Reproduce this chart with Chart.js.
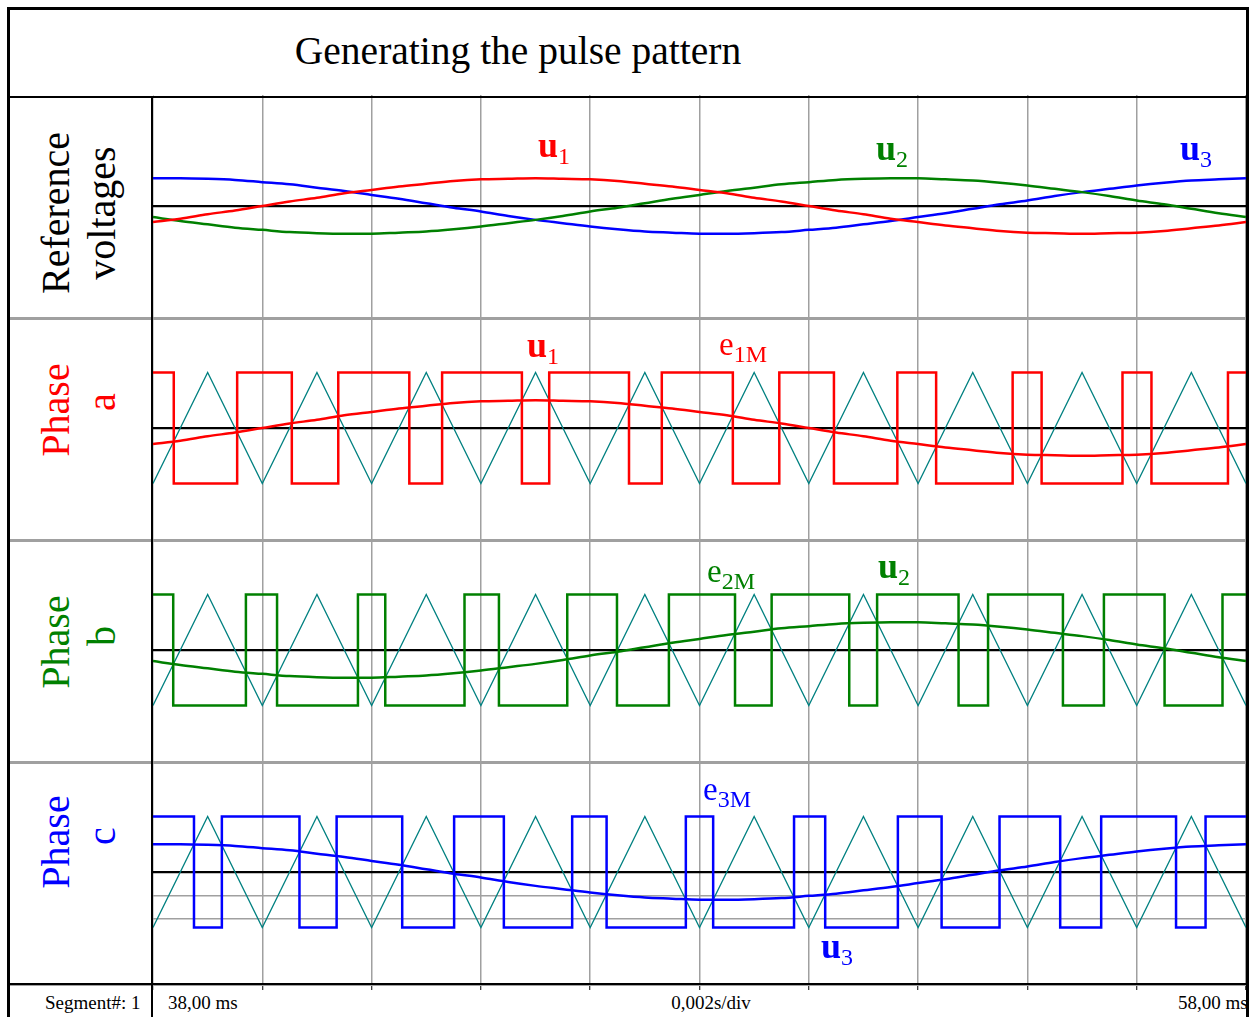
<!DOCTYPE html>
<html>
<head>
<meta charset="utf-8">
<title>Generating the pulse pattern</title>
<script src="https://cdn.jsdelivr.net/npm/chart.js@4.4.1/dist/chart.umd.min.js"></script>
<style>
    body { margin: 0; background: #fff; }
    #page { position: relative; width: 1255px; height: 1017px; overflow: hidden; font-family: "Liberation Serif", "Times New Roman", serif; }
    .box { position: absolute; z-index: 2; }
    .panel { position: absolute; left: 153px; z-index: 1; }
    .rot { position: absolute; z-index: 3; font-size: 40px; line-height: 46px; white-space: nowrap; transform: translate(-50%, -50%) rotate(-90deg); }
    .lbl { position: absolute; z-index: 3; white-space: nowrap; }
    .lbl.u { font-size: 36px; line-height: 36px; font-weight: bold; }
    .lbl.e { font-size: 33px; line-height: 33px; }
    .lbl .s { font-size: 24px; font-weight: normal; position: relative; top: 7px; }
    .foot { position: absolute; z-index: 3; font-size: 19px; line-height: 19px; white-space: nowrap; }
</style>
</head>
<body>
<div id="page">
    <canvas id="p1" class="panel" width="1093" height="222" style="top:95px"></canvas>
    <canvas id="p2" class="panel" width="1093" height="222" style="top:317px"></canvas>
    <canvas id="p3" class="panel" width="1093" height="222" style="top:539px"></canvas>
    <canvas id="p4" class="panel" width="1093" height="229" style="top:761px"></canvas>

    <!-- frame -->
    <div class="box" style="left:7px;top:7px;width:1242px;height:3px;background:#000"></div>
    <div class="box" style="left:7px;top:7px;width:3px;height:1010px;background:#000"></div>
    <div class="box" style="left:1246px;top:7px;width:3px;height:1010px;background:#000"></div>
    <div class="box" style="left:10px;top:96px;width:1236px;height:2px;background:#000"></div>
    <div class="box" style="left:10px;top:317px;width:1236px;height:3px;background:#a0a0a0"></div>
    <div class="box" style="left:10px;top:539px;width:1236px;height:3px;background:#a0a0a0"></div>
    <div class="box" style="left:10px;top:761px;width:1236px;height:3px;background:#a0a0a0"></div>
    <div class="box" style="left:10px;top:983px;width:1236px;height:2px;background:#000"></div>
    <div class="box" style="left:10px;top:985px;width:1236px;height:1px;background:#a0a0a0"></div>
    <div class="box" style="left:151px;top:97px;width:2px;height:920px;background:#000"></div>

    <div class="lbl" style="left:218px;top:32px;width:600px;text-align:center;font-size:39.5px;line-height:39px">Generating the pulse pattern</div>

    <div class="rot" style="left:56px;top:213px">Reference</div>
    <div class="rot" style="left:102px;top:213px">voltages</div>
    <div class="rot" style="left:56px;top:410px;color:#ff0000">Phase</div>
    <div class="rot" style="left:102px;top:402px;color:#ff0000">a</div>
    <div class="rot" style="left:56px;top:642px;color:#008000">Phase</div>
    <div class="rot" style="left:102px;top:636px;color:#008000">b</div>
    <div class="rot" style="left:56px;top:842px;color:#0000ff">Phase</div>
    <div class="rot" style="left:102px;top:836px;color:#0000ff">c</div>

    <div class="lbl u" style="left:538px;top:127px;color:#ff0000">u<span class="s">1</span></div>
    <div class="lbl u" style="left:876px;top:130px;color:#008000">u<span class="s">2</span></div>
    <div class="lbl u" style="left:1180px;top:130px;color:#0000ff">u<span class="s">3</span></div>
    <div class="lbl u" style="left:527px;top:327px;color:#ff0000">u<span class="s">1</span></div>
    <div class="lbl e" style="left:719px;top:328px;color:#ff0000">e<span class="s">1M</span></div>
    <div class="lbl e" style="left:707px;top:555px;color:#008000">e<span class="s">2M</span></div>
    <div class="lbl u" style="left:878px;top:548px;color:#008000">u<span class="s">2</span></div>
    <div class="lbl e" style="left:703px;top:773px;color:#0000ff">e<span class="s">3M</span></div>
    <div class="lbl u" style="left:821px;top:928px;color:#0000ff">u<span class="s">3</span></div>

    <div class="foot" style="left:45px;top:993px">Segment#: 1</div>
    <div class="foot" style="left:168px;top:993px">38,00 ms</div>
    <div class="foot" style="left:611px;top:993px;width:200px;text-align:center">0,002s/div</div>
    <div class="foot" style="left:1178px;top:993px">58,00 ms</div>
</div>

<script>
// time in ms, 0.002 s per division
var tMin = 38;
var tMax = 58;
var tStep = 2;

// reference voltages (carrier amplitude = 1)
var sineT = [38, 38.5, 39, 39.5, 40, 40.5, 41, 41.5, 42, 42.5, 43, 43.5, 44, 44.5, 45, 45.5, 46, 46.5, 47, 47.5,
    48, 48.5, 49, 49.5, 50, 50.5, 51, 51.5, 52, 52.5, 53, 53.5, 54, 54.5, 55, 55.5, 56, 56.5, 57, 57.5, 58];
var u1 = [-0.29, -0.23, -0.15, -0.08, 0, 0.08, 0.15, 0.23, 0.29, 0.35, 0.40, 0.45, 0.48, 0.49, 0.50, 0.49, 0.48, 0.45, 0.40, 0.35,
    0.29, 0.23, 0.15, 0.08, 0, -0.08, -0.15, -0.23, -0.29, -0.35, -0.40, -0.45, -0.48, -0.49, -0.50, -0.49, -0.48, -0.45, -0.40, -0.35, -0.29];
var u2 = [-0.20, -0.27, -0.33, -0.39, -0.43, -0.47, -0.49, -0.50, -0.50, -0.48, -0.46, -0.42, -0.37, -0.31, -0.25, -0.18, -0.10, -0.03, 0.05, 0.13,
    0.20, 0.27, 0.33, 0.39, 0.43, 0.47, 0.49, 0.50, 0.50, 0.48, 0.46, 0.42, 0.37, 0.31, 0.25, 0.18, 0.10, 0.03, -0.05, -0.13, -0.20];
var u3 = [0.50, 0.50, 0.49, 0.47, 0.43, 0.39, 0.33, 0.27, 0.20, 0.13, 0.05, -0.03, -0.10, -0.18, -0.25, -0.31, -0.37, -0.42, -0.46, -0.48,
    -0.50, -0.50, -0.49, -0.47, -0.43, -0.39, -0.33, -0.27, -0.20, -0.13, -0.05, 0.03, 0.10, 0.18, 0.25, 0.31, 0.37, 0.42, 0.46, 0.48, 0.50];

// triangular carrier
var carrierT = [38, 39, 40, 41, 42, 43, 44, 45, 46, 47, 48, 49, 50, 51, 52, 53, 54, 55, 56, 57, 58];
var carrier = [-1, 1, -1, 1, -1, 1, -1, 1, -1, 1, -1, 1, -1, 1, -1, 1, -1, 1, -1, 1, -1];

// switching instants of the pulse patterns (ms), each starts high
var e1M = [38.38, 39.54, 40.54, 41.39, 42.69, 43.29, 44.75, 45.25, 46.71, 47.31,
    48.61, 49.46, 50.46, 51.62, 52.33, 53.73, 54.26, 55.74, 56.27, 57.67];
var e2M = [38.37, 39.70, 40.27, 41.75, 42.25, 43.70, 44.33, 45.58, 46.49, 47.44,
    48.65, 49.32, 50.74, 51.25, 52.74, 53.28, 54.65, 55.40, 56.51, 57.57];
var e3M = [38.75, 39.26, 40.68, 41.36, 42.56, 43.51, 44.42, 45.67, 46.30, 47.75,
    48.25, 49.73, 50.30, 51.63, 52.43, 53.49, 54.60, 55.35, 56.72, 57.26];

// extra horizontal lines seen in phase c
var phaseCLines = [-0.84, -0.42];

function xy(xs, ys) {
    return xs.map(function (x, i) { return { x: x, y: ys[i] }; });
}

function pulse(switches) {
    var level = 1;
    var pts = [{ x: tMin, y: level }];
    switches.forEach(function (t) {
        level = -level;
        pts.push({ x: t, y: level });
    });
    pts.push({ x: tMax, y: level });
    return pts;
}

function sineSet(values, color) {
    return { data: xy(sineT, values), borderColor: color, borderWidth: 2.5, cubicInterpolationMode: 'monotone' };
}

function pulseSet(switches, color) {
    return { data: pulse(switches), borderColor: color, borderWidth: 2.5, stepped: 'before', borderJoinStyle: 'miter' };
}

function carrierSet() {
    return { data: xy(carrierT, carrier), borderColor: '#008080', borderWidth: 1.3, tension: 0 };
}

function makePanel(id, datasets, yLines, bottomTicks) {
    new Chart(document.getElementById(id), {
        type: 'line',
        data: { datasets: datasets },
        options: {
            responsive: false,
            animation: false,
            events: [],
            layout: { padding: 0 },
            elements: { point: { radius: 0 } },
            plugins: {
                legend: { display: false },
                tooltip: { enabled: false }
            },
            scales: {
                x: {
                    type: 'linear',
                    min: tMin,
                    max: tMax,
                    ticks: { display: false, stepSize: tStep },
                    grid: {
                        color: '#a0a0a0',
                        lineWidth: 1.5,
                        drawTicks: !!bottomTicks,
                        tickLength: 7,
                        tickColor: '#000',
                        tickWidth: 1
                    },
                    border: { display: false }
                },
                y: {
                    min: -2,
                    max: 2,
                    afterBuildTicks: function (axis) {
                        axis.ticks = yLines.map(function (v) { return { value: v }; });
                    },
                    ticks: { display: false },
                    grid: {
                        drawTicks: false,
                        color: function (ctx) { return ctx.tick && ctx.tick.value === 0 ? '#000' : '#a0a0a0'; },
                        lineWidth: function (ctx) { return ctx.tick && ctx.tick.value === 0 ? 2.2 : 1.5; }
                    },
                    border: { display: false }
                }
            }
        }
    });
}

makePanel('p1', [
    sineSet(u1, '#ff0000'),
    sineSet(u2, '#008000'),
    sineSet(u3, '#0000ff')
], [0]);

makePanel('p2', [
    sineSet(u1, '#ff0000'),
    pulseSet(e1M, '#ff0000'),
    carrierSet()
], [0]);

makePanel('p3', [
    sineSet(u2, '#008000'),
    pulseSet(e2M, '#008000'),
    carrierSet()
], [0]);

makePanel('p4', [
    sineSet(u3, '#0000ff'),
    pulseSet(e3M, '#0000ff'),
    carrierSet()
], phaseCLines.concat([0]), true);
</script>
</body>
</html>
